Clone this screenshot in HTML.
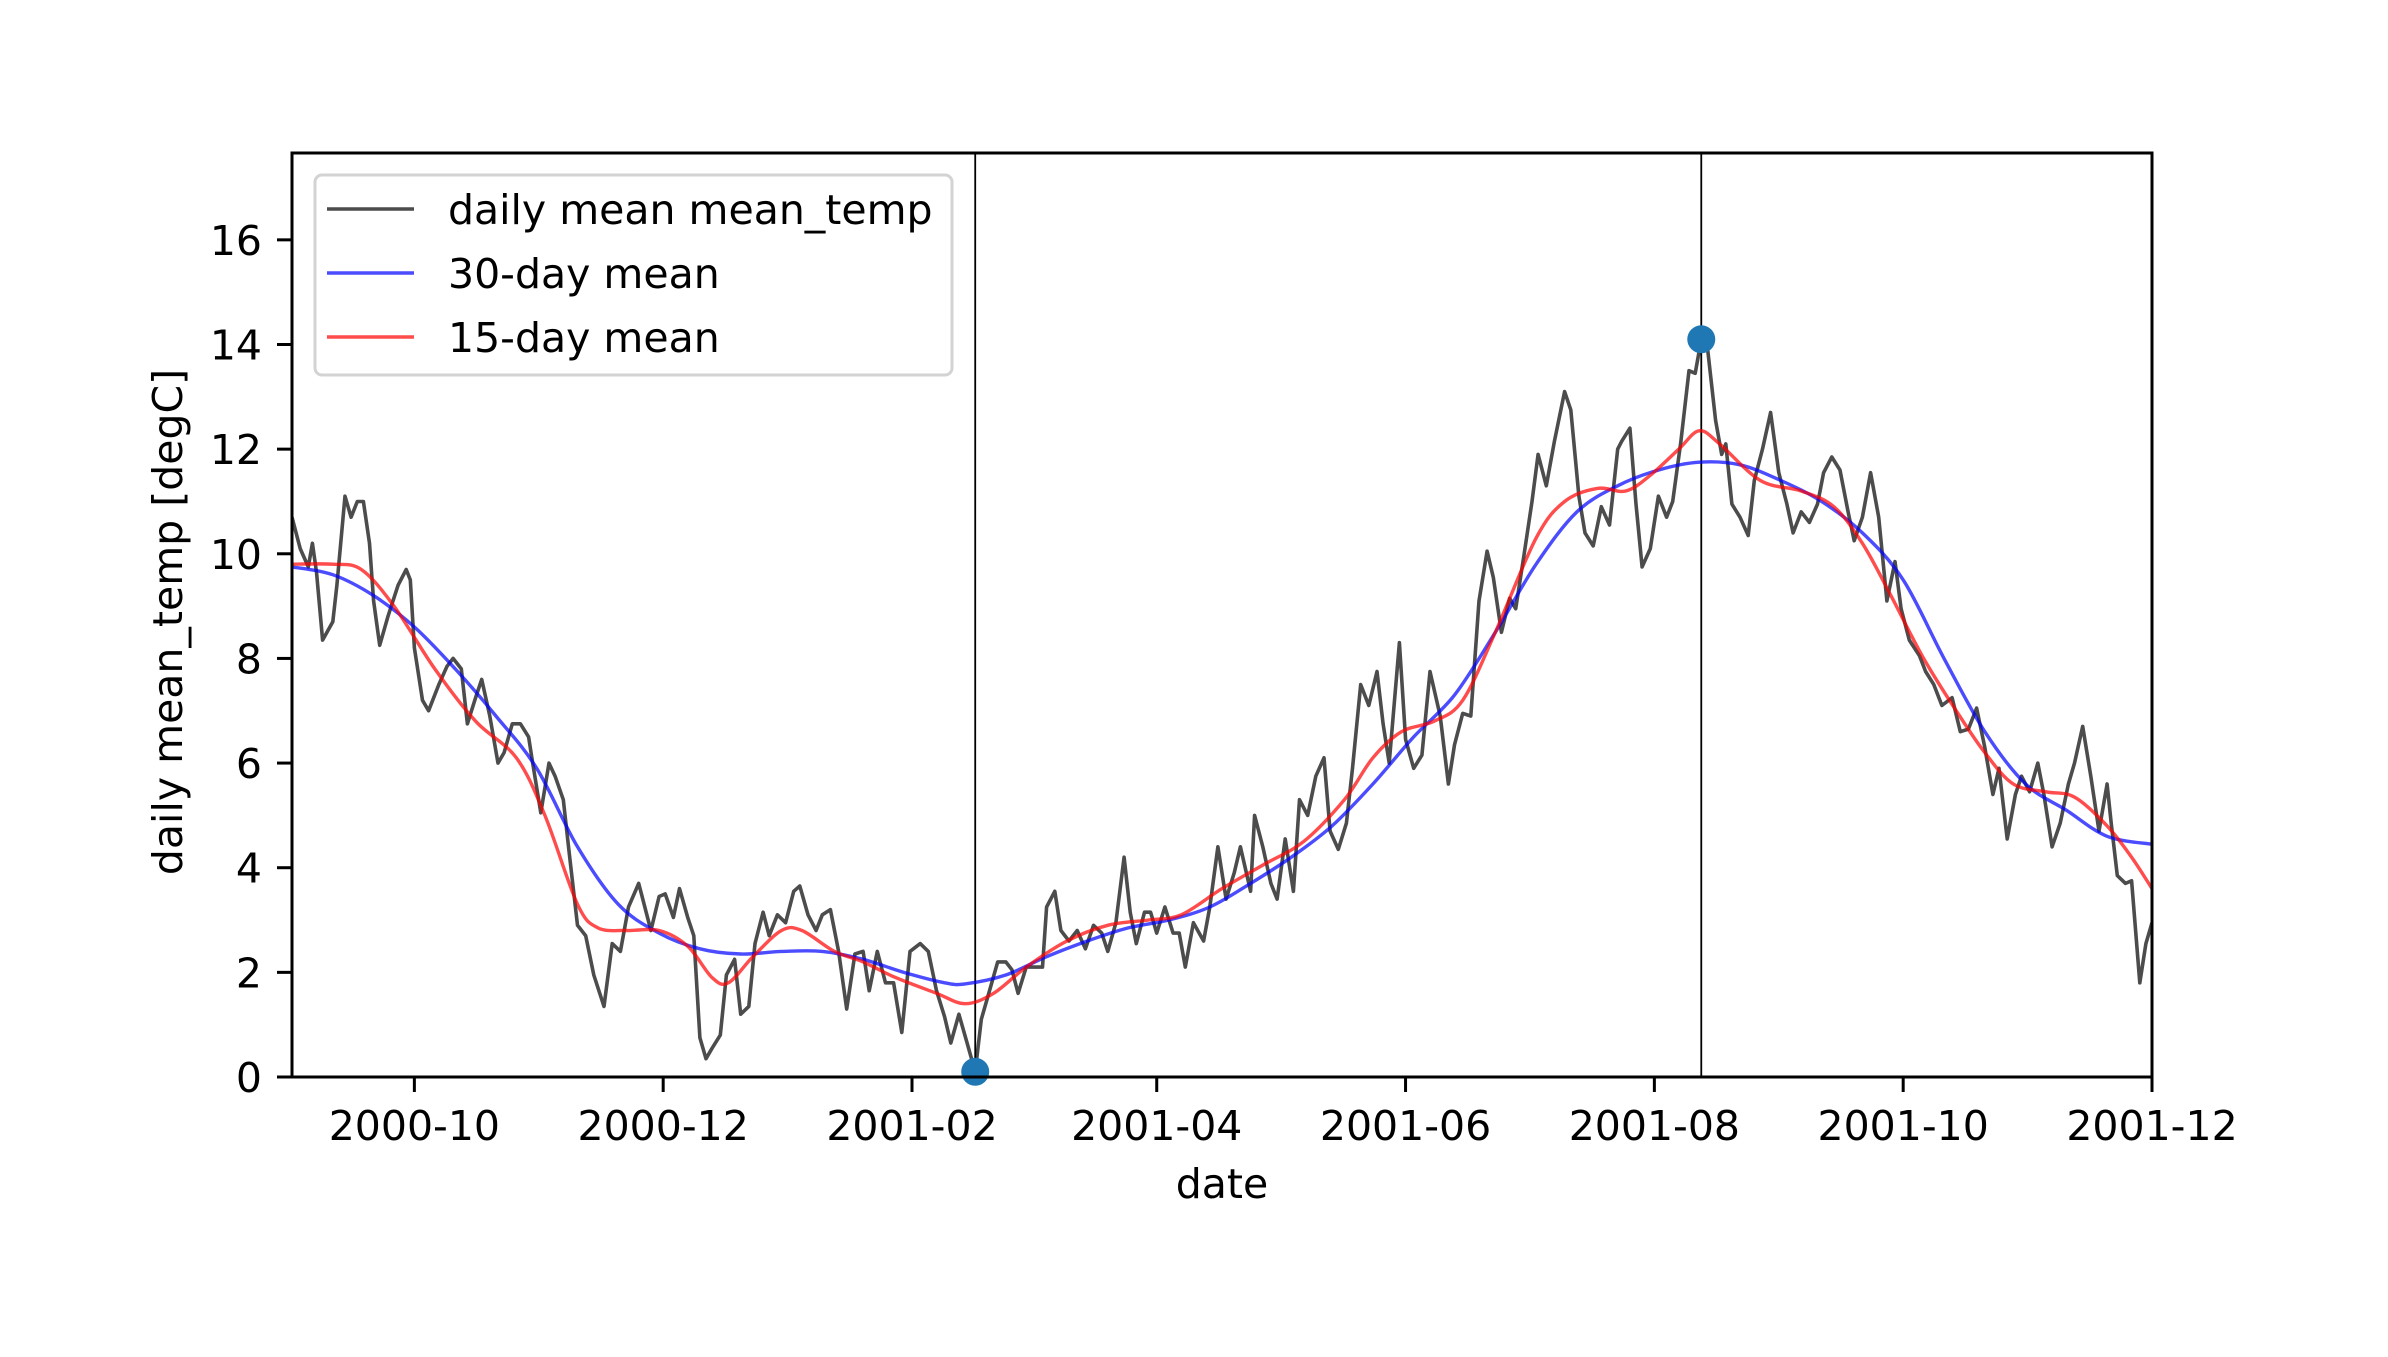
<!DOCTYPE html>
<html><head><meta charset="utf-8"><style>
html,body{margin:0;padding:0;background:#fff;}
svg{display:block;font-family:"DejaVu Sans","Liberation Sans",sans-serif;}
</style></head><body>
<svg id="chart" width="2388" height="1357" viewBox="0 0 2388 1357" xmlns="http://www.w3.org/2000/svg">
<rect width="2388" height="1357" fill="#fff"/>
<g id="plot"></g>
</svg>
<script>
// day offsets from 2000-09-01 and daily mean values
const dailyDays=[0,2,4,5,6,7.5,10,11,13,14.5,16,17.5,19,20,21.5,23.5,26,28,29,30,32,33.5,36,38,39.5,41.5,43,45,46.5,48.5,50.5,52,54,56,58,59,61,63,64.5,66.5,68,70,72,74,76.5,78.5,80.5,82.5,85,88,90,91.5,93.5,95,97,98.5,100,101.5,103,105,106.5,108.5,110,112,113.5,115.5,117,119,121,123,124.5,126.5,128.5,130,132,134,136,138,140,141.5,143.5,145.5,147.5,149.5,151.5,154,156,158,160,161.5,163.5,165.5,167.5,169,171,173,175,176.5,178,180,182,184,185,187,188.5,190.5,192.5,194.5,196.5,198.5,200,202,204,205.5,207,209,210.5,212,214,216,217.5,219,221,223.5,225,227,229,231,232.5,235,236,238,240,241.5,243.5,245.5,247,249,251,253,254.5,256.5,258.5,260,262,264,266,267.5,269,271.5,273,275,277,279,281.5,283.5,285,287,289,291,293,294.5,296.5,298.5,300,302,304,305.5,307.5,309.5,312,313.5,315.5,317,319,321,323,325,326,328,329.5,331,333,335,337,338.5,340.5,342.5,344,345.5,347,349,350.5,351.5,353,355,357,358.5,360.5,362.5,364.5,366.5,368,370,372,374,375.5,377.5,379.5,381.5,383,385,387,389,391,393,394.5,396.5,399,400.5,402.5,404.5,407,409,411,413,415,417,418.5,420.5,422.5,424,426,428,429.5,431.5,433.5,435.5,437,439,441,443,445,446,447.5,449.5,451,453,454.5,456];
const dailyVals=[10.7,10.1,9.75,10.2,9.65,8.35,8.7,9.4,11.1,10.7,11.0,11.0,10.2,9.1,8.25,8.8,9.4,9.7,9.5,8.2,7.2,7.0,7.5,7.85,8.0,7.8,6.75,7.25,7.6,6.9,6.0,6.2,6.75,6.75,6.5,6.0,5.05,6.0,5.75,5.3,4.25,2.9,2.7,1.95,1.35,2.55,2.4,3.25,3.7,2.8,3.45,3.5,3.05,3.6,3.05,2.7,0.75,0.35,0.55,0.8,1.95,2.25,1.2,1.35,2.55,3.15,2.7,3.1,2.95,3.55,3.65,3.1,2.8,3.1,3.2,2.4,1.3,2.35,2.4,1.65,2.4,1.8,1.8,0.85,2.4,2.55,2.4,1.65,1.15,0.65,1.2,0.65,0.1,1.1,1.65,2.2,2.2,2.05,1.6,2.1,2.1,2.1,3.25,3.55,2.8,2.6,2.8,2.45,2.9,2.75,2.4,2.95,4.2,3.15,2.55,3.15,3.15,2.75,3.25,2.75,2.75,2.1,2.95,2.6,3.25,4.4,3.4,3.9,4.4,3.55,5.0,4.4,3.7,3.4,4.55,3.55,5.3,5.0,5.75,6.1,4.7,4.35,4.85,5.9,7.5,7.1,7.75,6.75,6.0,8.3,6.45,5.9,6.15,7.75,6.9,5.6,6.35,6.95,6.9,9.1,10.05,9.55,8.5,9.15,8.95,9.95,11.0,11.9,11.3,12.15,13.1,12.75,11.1,10.4,10.15,10.9,10.55,12.0,12.15,12.4,10.95,9.75,10.1,11.1,10.7,11.0,12.15,13.5,13.45,14.1,13.95,12.55,11.9,12.1,10.95,10.7,10.35,11.4,12.0,12.7,11.55,10.95,10.4,10.8,10.6,10.95,11.55,11.85,11.6,10.8,10.25,10.7,11.55,10.7,9.1,9.85,8.95,8.35,8.05,7.75,7.5,7.1,7.25,6.6,6.65,7.05,6.3,5.4,5.9,4.55,5.4,5.75,5.45,6.0,5.4,4.4,4.85,5.6,6.0,6.7,5.75,4.7,5.6,4.85,3.85,3.7,3.75,1.8,2.55,2.95];
const mean30Days=[0,10,20,30,40,50,60,70,80,90,100,110,120,130,140,150,160,165,175,185,195,205,215,225,235,245,255,265,275,285,295,305,315,325,335,345,355,365,375,385,395,405,415,425,435,445,456];
const mean30Vals=[9.75,9.6,9.2,8.6,7.8,6.9,5.9,4.4,3.3,2.75,2.45,2.35,2.4,2.4,2.25,2.0,1.8,1.78,1.95,2.3,2.6,2.85,3.0,3.25,3.7,4.2,4.8,5.6,6.5,7.3,8.5,9.8,10.8,11.3,11.6,11.75,11.7,11.4,11.0,10.4,9.5,8.0,6.6,5.6,5.1,4.6,4.45];
const mean15Days=[0,10,17,25,35,45,55,62,70,75,82,90,97,103,107,113,120,125,133,140,148,158,165,172,180,190,200,210,218,228,238,248,258,265,272,280,287,295,305,312,320,327,333,340,345,350,360,370,378,385,392,400,408,415,422,430,437,445,451,456];
const mean15Vals=[9.8,9.8,9.7,9.0,7.8,6.8,6.1,5.0,3.3,2.85,2.8,2.8,2.5,1.9,1.8,2.3,2.8,2.8,2.4,2.2,1.9,1.6,1.4,1.6,2.1,2.6,2.9,3.0,3.1,3.6,4.05,4.5,5.3,6.1,6.6,6.8,7.2,8.5,10.3,11.0,11.25,11.2,11.5,12.0,12.35,12.1,11.4,11.2,10.9,10.2,9.2,8.0,7.0,6.2,5.6,5.45,5.35,4.8,4.2,3.6];
const extremeDays=[167.5,345.5];
const extremeVals=[0.1,14.1];
const xTickDays=[30,91,152,212,273,334,395,456];
const xTickLabels=["2000-10","2000-12","2001-02","2001-04","2001-06","2001-08","2001-10","2001-12"];
const yTicks=[0,2,4,6,8,10,12,14,16];

const L=292,R=2152,T=153,B=1077,XMAX=456,YMAX=17.66;
const xs=d=>L+(R-L)*d/XMAX;
const ys=v=>B-(B-T)*v/YMAX;
const NS="http://www.w3.org/2000/svg";
const g=document.getElementById('plot');
function mk(tag,attrs,parent){const e=document.createElementNS(NS,tag);for(const k in attrs)e.setAttribute(k,attrs[k]);(parent||g).appendChild(e);return e;}

let e;
const defs=mk('defs',{});
const cp=mk('clipPath',{id:'clip'},defs);
mk('rect',{x:L,y:T,width:R-L,height:B-T},cp);

extremeDays.forEach((d,i)=>{
  e=mk('line',{x1:xs(d),x2:xs(d),y1:T,y2:B,stroke:'#000','stroke-width':1.8});
  
  
});

function series(days,vals,color,name,w,smooth){
  const P=days.map((d,i)=>[xs(d),ys(vals[i])]);
  let p='M'+P[0][0].toFixed(1)+','+P[0][1].toFixed(1);
  if(!smooth){
    for(let i=1;i<P.length;i++)p+='L'+P[i][0].toFixed(1)+','+P[i][1].toFixed(1);
  }else{
    for(let i=0;i<P.length-1;i++){
      const p0=P[Math.max(0,i-1)],p1=P[i],p2=P[i+1],p3=P[Math.min(P.length-1,i+2)];
      const c1=[p1[0]+(p2[0]-p0[0])/6,p1[1]+(p2[1]-p0[1])/6];
      const c2=[p2[0]-(p3[0]-p1[0])/6,p2[1]-(p3[1]-p1[1])/6];
      p+='C'+c1[0].toFixed(1)+','+c1[1].toFixed(1)+' '+c2[0].toFixed(1)+','+c2[1].toFixed(1)+' '+p2[0].toFixed(1)+','+p2[1].toFixed(1);
    }
  }
  const el=mk('path',{d:p,fill:'none',stroke:color,'stroke-width':w,'stroke-linejoin':'round','clip-path':'url(#clip)'});
  
  
}
series(dailyDays,dailyVals,'rgba(0,0,0,0.7)','daily-mean-line',3.6,false);
series(mean30Days,mean30Vals,'rgba(0,0,255,0.7)','30-day-mean-line',3.4,true);
series(mean15Days,mean15Vals,'rgba(255,0,0,0.7)','15-day-mean-line',3.4,true);

extremeDays.forEach((d,i)=>{
  e=mk('circle',{cx:xs(d),cy:ys(extremeVals[i]),r:14,fill:'#1f77b4'});
  
  
});

e=mk('rect',{x:L,y:T,width:R-L,height:B-T,fill:'none',stroke:'#000','stroke-width':3});



yTicks.forEach(v=>{
  mk('line',{x1:L-15,x2:L,y1:ys(v),y2:ys(v),stroke:'#000','stroke-width':3});
  e=mk('text',{x:262,y:ys(v)+15,'text-anchor':'end','font-size':41,fill:'#000'});
  e.textContent=v;
  
  
});
xTickDays.forEach((d,i)=>{
  mk('line',{x1:xs(d),x2:xs(d),y1:B,y2:B+15,stroke:'#000','stroke-width':3});
  e=mk('text',{x:xs(d),y:1140,'text-anchor':'middle','font-size':41,fill:'#000'});
  e.textContent=xTickLabels[i];
  
  
});
e=mk('text',{x:(L+R)/2,y:1198,'text-anchor':'middle','font-size':41,fill:'#000'});
e.textContent='date';


e=mk('text',{x:0,y:0,'text-anchor':'middle','font-size':41,fill:'#000',transform:'translate(182,622) rotate(-90)'});
e.textContent='daily mean_temp [degC]';



const lg=mk('g',{});


mk('rect',{x:315,y:175,width:637,height:200,rx:7,fill:'rgba(255,255,255,0.8)',stroke:'#d3d3d3','stroke-width':3},lg);
const items=[['daily mean mean_temp','rgba(0,0,0,0.7)'],['30-day mean','rgba(0,0,255,0.7)'],['15-day mean','rgba(255,0,0,0.7)']];
items.forEach((it,i)=>{
  const y=209+i*64;
  e=mk('line',{x1:327,x2:414,y1:y,y2:y,stroke:it[1],'stroke-width':3.4},lg);
  
  
  e=mk('text',{x:448,y:y+15,'font-size':41,fill:'#000'},lg);
  e.textContent=it[0];
  
  
});
</script>
</body></html>
